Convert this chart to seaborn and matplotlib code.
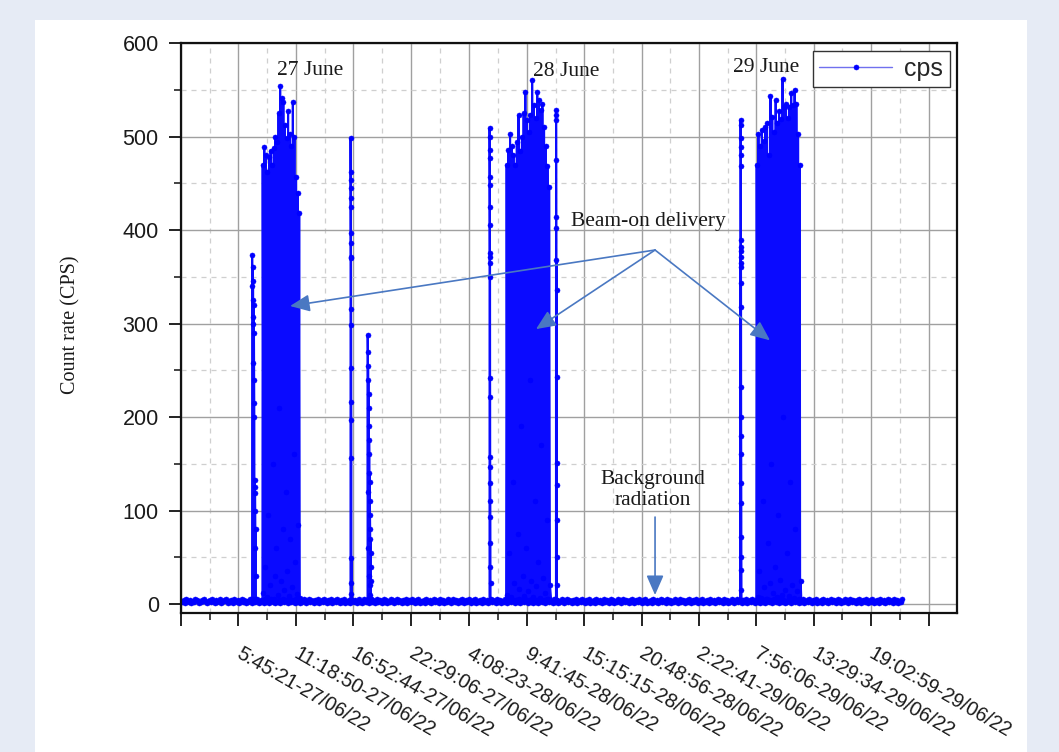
import numpy as np
import pandas as pd
import matplotlib
matplotlib.use('Agg')
import matplotlib.pyplot as plt
from matplotlib.patches import Rectangle
from matplotlib.ticker import FixedLocator, MultipleLocator
from matplotlib.transforms import ScaledTranslation
import seaborn as sns

# time axis in hours since 00:00 on 27/06/22
tick_labels = ['5:45:21-27/06/22', '11:18:50-27/06/22', '16:52:44-27/06/22',
               '22:29:06-27/06/22', '4:08:23-28/06/22', '9:41:45-28/06/22',
               '15:15:15-28/06/22', '20:48:56-28/06/22', '2:22:41-29/06/22',
               '7:56:06-29/06/22', '13:29:34-29/06/22', '19:02:59-29/06/22']
first_tick = 0.184   # unlabelled tick at left edge
last_tick = 72.62    # unlabelled tick after last label
x_max = 75.38

# background counts (cps), one reading every ~0.125 h
bg_start, bg_end = 0.2, 70.05
bg_digits = ("3241532413254312435213425314235124351324153241352413253142351243152413"
             "4251324135243152431524132541352431425134253142513425314251324153241352"
             "1352431524135243152413254135243142513425314251324153241352431524132541"
             "3524314251342531425132415324135243152413254135243142513425314251324153"
             "2413524315241325413524314251342531425132415324135243152413254135243142"
             "5134253142513241532413524315241325413524314251342531425132415324135243"
             "1524132541352431425134253142513241532413524315241325413524314251342531"
             "4251324153241352431524132541352431425134253142513241532413524315241325")
bg_cps = [int(c) for c in bg_digits]

# beam-on periods: (start h, end h) and readings in time order
spike_a_time = (7.06, 7.45)
spike_a = [5, 373, 340, 360, 325, 307, 345, 300, 258, 320, 215, 290, 240, 200, 5,
           133, 119, 125, 100, 60, 30, 80, 4]
burst_27_time = (8.10, 11.715)
burst_27 = [470, 12, 489, 40, 480, 8, 462, 95, 478, 20, 485, 5, 470, 150, 488, 30,
            500, 60, 494, 10, 525, 210, 554, 25, 541, 80, 537, 15, 512, 120, 498, 35,
            527, 9, 503, 70, 490, 18, 537, 160, 500, 45, 457, 11, 440, 85, 418, 6]
spike_b_time = (16.61, 16.71)
spike_b = [4, 498, 462, 453, 445, 434, 425, 397, 386, 371, 370, 316, 298, 252, 216,
           197, 156, 49, 22, 11, 4]
burst_c_time = (18.26, 18.60)
burst_c = [5, 288, 270, 120, 255, 240, 60, 225, 210, 190, 30, 175, 160, 140, 20, 130,
           110, 95, 80, 10, 70, 55, 40, 25, 5]
spike_d_time = (30.08, 30.18)
spike_d = [4, 509, 500, 486, 477, 457, 448, 425, 405, 375, 365, 371, 350, 242, 221,
           157, 147, 129, 110, 93, 65, 40, 22, 4]
burst_28_time = (31.74, 35.94)
burst_28 = [470, 10, 486, 55, 503, 7, 490, 130, 480, 22, 470, 4, 494, 75, 523, 16,
            484, 190, 500, 30, 525, 9, 548, 60, 518, 14, 505, 240, 523, 25, 560, 8,
            534, 110, 520, 19, 548, 45, 539, 6, 528, 170, 535, 28, 510, 12, 490, 90,
            468, 5, 446, 20]
spike_e_time = (36.52, 36.62)
spike_e = [4, 528, 523, 518, 475, 414, 402, 368, 336, 243, 151, 127, 90, 50, 20, 4]
spike_f_time = (54.40, 54.50)
spike_f = [4, 518, 512, 498, 489, 480, 468, 389, 382, 371, 365, 378, 360, 343, 318,
           232, 200, 180, 160, 129, 108, 72, 50, 36, 15, 4]
burst_29_time = (55.97, 60.23)
burst_29 = [470, 8, 503, 35, 490, 6, 507, 110, 495, 18, 510, 5, 514, 65, 480, 22,
            543, 150, 521, 12, 505, 40, 539, 7, 514, 95, 527, 26, 519, 10, 562, 200,
            532, 15, 535, 55, 520, 9, 532, 130, 546, 20, 534, 6, 550, 80, 535, 14,
            503, 5, 470, 25]


def hours(label):
    clock, date = label.split('-')
    h, m, s = (int(v) for v in clock.split(':'))
    return (int(date.split('/')[0]) - 27) * 24 + h + m / 60 + s / 3600


tick_hours = [first_tick] + [hours(l) for l in tick_labels] + [last_tick]

segments = [(bg_start, bg_end, bg_cps),
            (*spike_a_time, spike_a), (*burst_27_time, burst_27),
            (*spike_b_time, spike_b), (*burst_c_time, burst_c),
            (*spike_d_time, spike_d), (*burst_28_time, burst_28),
            (*spike_e_time, spike_e), (*spike_f_time, spike_f),
            (*burst_29_time, burst_29)]
frames = [pd.DataFrame({'t': np.linspace(a, b, len(v)), 'cps': v})
          for a, b, v in segments]
df = pd.concat(frames).sort_values('t').reset_index(drop=True)

sns.set_style('white')
plt.rcParams['font.family'] = ['Liberation Sans', 'DejaVu Sans']
plt.rcParams['path.simplify'] = False
plt.rcParams['path.simplify_threshold'] = 0.0
serif = ['Liberation Serif', 'DejaVu Serif']

fig = plt.figure(figsize=(10.59, 7.52), dpi=100, facecolor='#e6ebf5')
fig.patches.append(Rectangle((35 / 1059, 0), 992 / 1059, 1 - 20 / 752,
                             transform=fig.transFigure, facecolor='white',
                             edgecolor='none', zorder=-10))
ax = fig.add_axes([181 / 1059, 1 - 613 / 752, 776 / 1059, 570 / 752])
ax.set_facecolor('white')

sns.lineplot(data=df, x='t', y='cps', ax=ax, estimator=None, color='#0a0aff',
             linewidth=1.5, marker='o', markersize=3.6, markerfacecolor='#0000ff',
             markeredgecolor='#0000ff', markeredgewidth=0.4, label='cps')
for ln in ax.lines:
    ln.get_path().should_simplify = False

ax.set_xlim(first_tick, x_max)
ax.set_ylim(-9.6, 600)
ax.set_xticks(tick_hours, labels=[''] + tick_labels + [''])
minor_x = [(a + b) / 2 for a, b in zip(tick_hours[:-1], tick_hours[1:])]
ax.xaxis.set_minor_locator(FixedLocator(minor_x))
ax.yaxis.set_major_locator(MultipleLocator(100))
ax.yaxis.set_minor_locator(MultipleLocator(50))

ax.tick_params(axis='both', which='major', direction='out', length=9, width=1.3,
               color='#111111', labelcolor='#1a1a1a', bottom=True, left=True)
ax.tick_params(axis='both', which='minor', direction='out', length=5, width=1.1,
               color='#111111', bottom=True, left=True)
ax.tick_params(axis='x', labelsize=14.3, pad=13)
ax.tick_params(axis='y', labelsize=15.5, pad=7)
shift = ScaledTranslation(0.04, 0, fig.dpi_scale_trans)
for lab in ax.get_xticklabels():
    lab.set_rotation(-30)
    lab.set_ha('left')
    lab.set_va('top')
    lab.set_rotation_mode('anchor')
    lab.set_transform(lab.get_transform() + shift)

ax.grid(True, which='major', color='#a0a0a0', linewidth=1.0, linestyle='-')
ax.grid(True, which='minor', color='#cfcfcf', linewidth=0.9, linestyle=(0, (4, 4)))
ax.set_axisbelow(True)
for sp in ax.spines.values():
    sp.set_visible(True)
    sp.set_color('#111111')
    sp.set_linewidth(1.6)

ax.set_xlabel('')
ax.set_ylabel('Count rate (CPS)', fontsize=14.5, family=serif, color='#1a1a1a')
ax.yaxis.set_label_coords(-0.13, 0.505)

txt = dict(fontsize=15.5, family=serif, color='#1a1a1a', ha='center', va='center')
ax.text(12.68, 571, '27 June', **txt)
ax.text(37.49, 570, '28 June', **txt)
ax.text(56.87, 573.6, '29 June', **txt)
ax.text(45.44, 408.6, 'Beam-on delivery', **txt)
ax.text(45.9, 122, 'Background\nradiation', linespacing=1.1, **txt)

arrow = dict(arrowstyle='-|>,head_length=0.8,head_width=0.35', color='#4a78c2',
             lw=1.2, mutation_scale=15, shrinkA=0, shrinkB=0)
for tip in [(10.75, 318.7), (34.58, 294), (57.26, 282)]:
    ax.annotate('', xy=tip, xytext=(46.12, 378.6), arrowprops=arrow)
ax.annotate('', xy=(46.12, 9.6), xytext=(46.12, 93), arrowprops=arrow)

leg = ax.legend(loc='upper right', fontsize=18, frameon=True, fancybox=False,
                edgecolor='#333333', framealpha=1, handlelength=2.9,
                borderaxespad=0.3, borderpad=0.25, handletextpad=0.5)
leg.get_frame().set_linewidth(1.0)
leg.get_lines()[0].set_linewidth(1.0)
leg.get_lines()[0].set_color('#7070ee')

fig.savefig('out.png', dpi=100, facecolor=fig.get_facecolor())
